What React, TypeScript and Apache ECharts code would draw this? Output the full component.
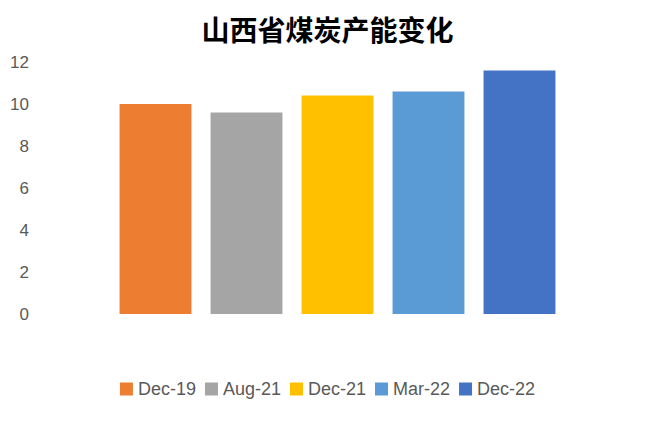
import React, { useEffect, useRef } from "react";
import * as echarts from "echarts";

const categories = ["Dec-19", "Aug-21", "Dec-21", "Mar-22", "Dec-22"];
const values = [10.0, 9.6, 10.4, 10.6, 11.6];
const colors = ["#ED7D31", "#A5A5A5", "#FFC000", "#5B9BD5", "#4472C4"];
const yTicks = { min: 0, max: 12, interval: 2 };
const title = "山西省煤炭产能变化";

export default function App() {
  const ref = useRef<HTMLDivElement>(null);
  useEffect(() => {
    if (!ref.current) return;
    const chart = echarts.init(ref.current, null, { renderer: "svg" });
    const series = categories.map((name, i) => ({
      name,
      type: "bar",
      stack: "all",
      barCategoryGap: "21%",
      itemStyle: { color: colors[i] },
      data: categories.map((_, j) => (j === i ? values[i] : "-")),
    }));
    chart.setOption({
      animation: false,
      backgroundColor: "#ffffff",
      title: {
        text: title,
        left: "center",
        top: 10,
        textStyle: {
          fontSize: 28,
          fontWeight: "bold",
          color: "#000000",
          fontFamily: "Noto Sans CJK SC",
        },
      },
      legend: {
        bottom: 18,
        left: "center",
        itemWidth: 13,
        itemHeight: 13,
        itemGap: 9,
        icon: "rect",
        textStyle: { fontSize: 18, color: "#595959", fontFamily: "Liberation Sans" },
        data: categories,
      },
      grid: { left: 110, right: 90, top: 62, bottom: 107 },
      xAxis: {
        type: "category",
        data: categories,
        axisLine: { show: false },
        axisTick: { show: false },
        axisLabel: { show: false },
      },
      yAxis: {
        type: "value",
        min: yTicks.min,
        max: yTicks.max,
        interval: yTicks.interval,
        splitLine: { show: false },
        axisLine: { show: false },
        axisTick: { show: false },
        axisLabel: {
          margin: 81,
          fontSize: 17,
          color: "#595959",
          fontFamily: "Liberation Sans",
        },
      },
      series,
    });
    return () => chart.dispose();
  }, []);
  return (
    <div
      ref={ref}
      style={{ position: "absolute", left: 0, top: 0, width: 655, height: 421 }}
    />
  );
}
